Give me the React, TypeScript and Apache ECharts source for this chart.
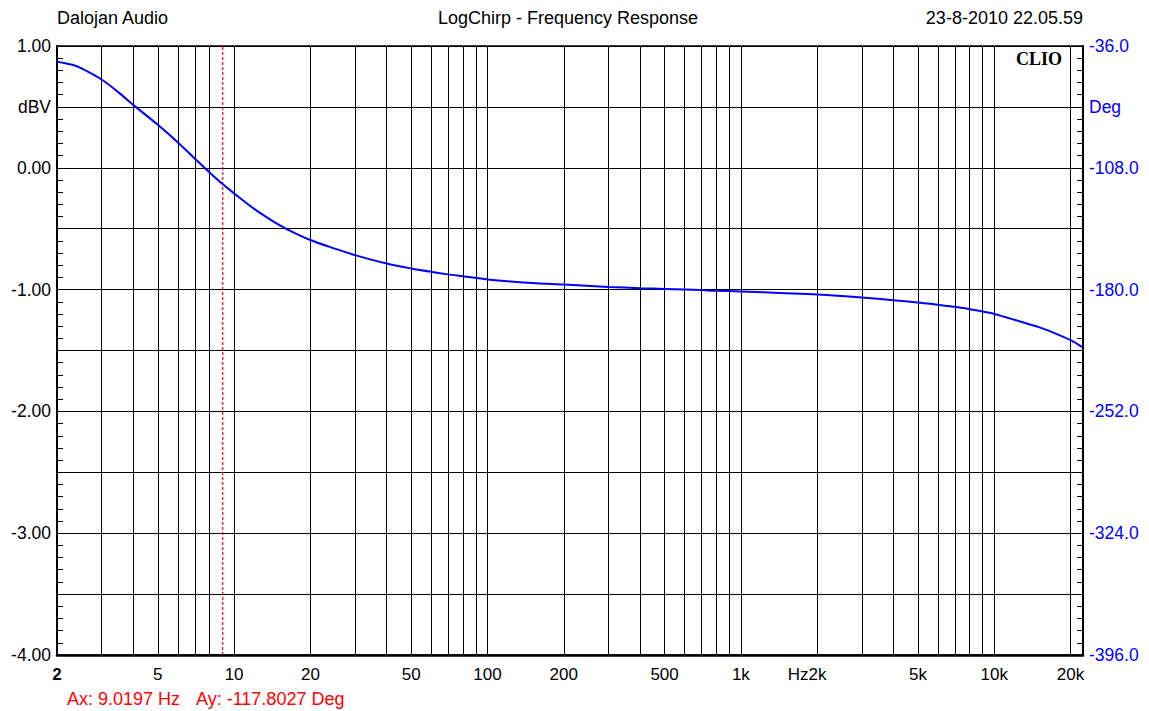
import React, { useEffect, useRef } from "react";
import * as echarts from "echarts";

// Phase curve (degrees), vs frequency (Hz)
const freqHz = [
  2, 2.3, 2.5, 3, 3.5, 4, 5, 6, 7, 8, 9, 10, 12, 14, 16, 20, 25, 30, 40, 50,
  60, 70, 80, 100, 150, 200, 300, 400, 500, 600, 700, 800, 1000, 1500, 2000,
  3000, 4000, 5000, 6000, 7000, 8000, 9000, 10000, 12000, 15000, 17000, 20000,
  22400,
];
const phaseDeg = [
  -45.3, -47.1, -49.2, -55.8, -63.4, -70.8, -82.6, -93.0, -102.6, -110.8,
  -117.6, -123.1, -132.3, -138.9, -143.9, -150.7, -155.8, -159.6, -164.6,
  -167.5, -169.5, -171.0, -172.1, -174.0, -176.1, -177.0, -178.4, -179.2,
  -179.6, -179.9, -180.3, -180.7, -181.1, -182.1, -182.9, -184.7, -186.3,
  -187.6, -189.0, -190.2, -191.6, -193.0, -194.4, -197.8, -202.2, -205.3,
  -209.9, -214.2,
];

// Vertical grid lines (log frequency); 9 Hz is covered by the cursor line
const gridFreqs = [
  2, 3, 4, 5, 6, 7, 8, 10, 20, 30, 40, 50, 60, 70, 80, 90, 100, 200, 300,
  400, 500, 600, 700, 800, 900, 1000, 2000, 3000, 4000, 5000, 6000, 7000, 8000,
  9000, 10000, 20000,
];
const labelFreqs = [2, 5, 10, 20, 50, 100, 200, 500, 1000, 2000, 5000, 10000, 20000];
const labelTexts = ["2", "5", "10", "20", "50", "100", "200", "500", "1k", "Hz2k", "5k", "10k", "20k"];

const cursorHz = 9.0197;
const cursorSpanDeg = [-396, -36];
const cursorText1 = "Ax: 9.0197 Hz";
const cursorText2 = "Ay: -117.8027 Deg";

const titleLeft = "Dalojan Audio";
const titleCenter = "LogChirp - Frequency Response";
const titleRight = "23-8-2010 22.05.59";
const brand = "CLIO";

const FONT = "'Liberation Sans', Arial, sans-serif";

export default function App() {
  const ref = useRef<HTMLDivElement>(null);

  useEffect(() => {
    if (!ref.current) return;
    const chart = echarts.init(ref.current, undefined, { renderer: "svg" });

    const gridLineData: any[] = gridFreqs.map((f) => {
      const idx = labelFreqs.indexOf(f);
      const has = idx >= 0;
      return {
        xAxis: f,
        label: has
          ? {
              show: true,
              position: "start",
              distance: 11,
              formatter: labelTexts[idx],
              color: "#000",
              fontSize: 17,
              fontFamily: FONT,
              fontWeight: f === 2 ? "bold" : "normal",
              padding: labelTexts[idx] === "Hz2k" ? [0, 20, 0, 0] : 0,
            }
          : { show: false },
      };
    });

    const points = freqHz.map((f, i) => [f, phaseDeg[i]]);
    const cursorPoints = cursorSpanDeg.map((d) => [cursorHz, d]);

    chart.setOption({
      animation: false,
      backgroundColor: "#fff",
      grid: {
        left: 57,
        right: 66,
        top: 46,
        bottom: 56,
        show: true,
        borderColor: "#000",
        borderWidth: 1.5,
        backgroundColor: "transparent",
      },
      xAxis: {
        type: "log",
        logBase: 10,
        min: 2,
        max: 22400,
        axisLine: { show: true, onZero: false, lineStyle: { color: "#000", width: 2.5 } },
        axisTick: { show: false },
        axisLabel: { show: false },
        splitLine: { show: false },
      },
      yAxis: [
        {
          type: "value",
          position: "left",
          min: -4,
          max: 1,
          interval: 0.5,
          axisLine: { show: true, onZero: false, lineStyle: { color: "#000", width: 2 } },
          axisTick: { show: true, inside: true, length: 6, lineStyle: { color: "#000" } },
          minorTick: { show: true, splitNumber: 5, length: 6, lineStyle: { color: "#000" } },
          splitLine: { show: true, lineStyle: { color: "#000", width: 1 } },
          axisLabel: {
            color: "#000",
            fontSize: 17.5,
            fontFamily: FONT,
            margin: 6,
            formatter: (v: number) => {
              if (Math.abs(v - 0.5) < 1e-6) return "dBV";
              if (Math.abs(v - Math.round(v)) < 1e-6) return Math.round(v).toFixed(2);
              return "";
            },
          },
        },
        {
          type: "value",
          position: "right",
          min: -396,
          max: -36,
          interval: 36,
          axisLine: { show: true, onZero: false, lineStyle: { color: "#000", width: 2 } },
          axisTick: { show: true, inside: true, length: 6, lineStyle: { color: "#000" } },
          minorTick: { show: true, splitNumber: 5, length: 6, lineStyle: { color: "#000" } },
          splitLine: { show: false },
          axisLabel: {
            color: "#0000ff",
            fontSize: 17.5,
            fontFamily: FONT,
            margin: 6,
            formatter: (v: number) => {
              const r = Math.round(v);
              if (r === -72) return "Deg";
              if (r % 72 === -36) return r.toFixed(1);
              return "";
            },
          },
        },
      ],
      graphic: [
        {
          type: "text",
          x: 57,
          y: 18,
          style: {
            text: titleLeft,
            fill: "#000",
            fontSize: 18,
            fontFamily: FONT,
            align: "left",
            verticalAlign: "middle",
          },
        },
        {
          type: "text",
          x: 568,
          y: 18,
          style: {
            text: titleCenter,
            fill: "#000",
            fontSize: 18,
            fontFamily: FONT,
            align: "center",
            verticalAlign: "middle",
          },
        },
        {
          type: "text",
          x: 1083,
          y: 18,
          style: {
            text: titleRight,
            fill: "#000",
            fontSize: 18,
            fontFamily: FONT,
            align: "right",
            verticalAlign: "middle",
          },
        },
        {
          type: "text",
          x: 1062,
          y: 59,
          z: 100,
          style: {
            text: brand,
            fill: "#000",
            fontSize: 18,
            fontWeight: "bold",
            fontFamily: "'Liberation Serif', 'Times New Roman', serif",
            align: "right",
            verticalAlign: "middle",
          },
        },
        {
          type: "text",
          x: 67,
          y: 699,
          style: {
            text: cursorText1,
            fill: "#ff0000",
            fontSize: 18,
            fontFamily: FONT,
            align: "left",
            verticalAlign: "middle",
          },
        },
        {
          type: "text",
          x: 196,
          y: 699,
          style: {
            text: cursorText2,
            fill: "#ff0000",
            fontSize: 18,
            fontFamily: FONT,
            align: "left",
            verticalAlign: "middle",
          },
        },
      ],
      series: [
        {
          type: "line",
          name: "grid",
          xAxisIndex: 0,
          yAxisIndex: 1,
          data: points,
          symbol: "none",
          silent: true,
          z: 1,
          lineStyle: { opacity: 0 },
          markLine: {
            silent: true,
            symbol: ["none", "none"],
            animation: false,
            lineStyle: { color: "#000", width: 1, type: "solid" },
            label: { show: false },
            emphasis: { disabled: true },
            data: gridLineData,
          },
        },
        {
          type: "line",
          name: "cursor",
          xAxisIndex: 0,
          yAxisIndex: 1,
          data: cursorPoints,
          symbol: "none",
          silent: true,
          z: 2,
          color: "#ff0000",
          lineStyle: { color: "#ff0000", width: 1.2, type: [3, 2] },
        },
        {
          type: "line",
          name: "Phase",
          xAxisIndex: 0,
          yAxisIndex: 1,
          data: points,
          symbol: "none",
          smooth: 0.3,
          z: 5,
          lineStyle: { color: "#0000ff", width: 2 },
        },
      ],
    });

    return () => chart.dispose();
  }, []);

  return (
    <div
      ref={ref}
      style={{ position: "fixed", left: 0, top: 0, width: 1149, height: 711, background: "#fff" }}
    />
  );
}
